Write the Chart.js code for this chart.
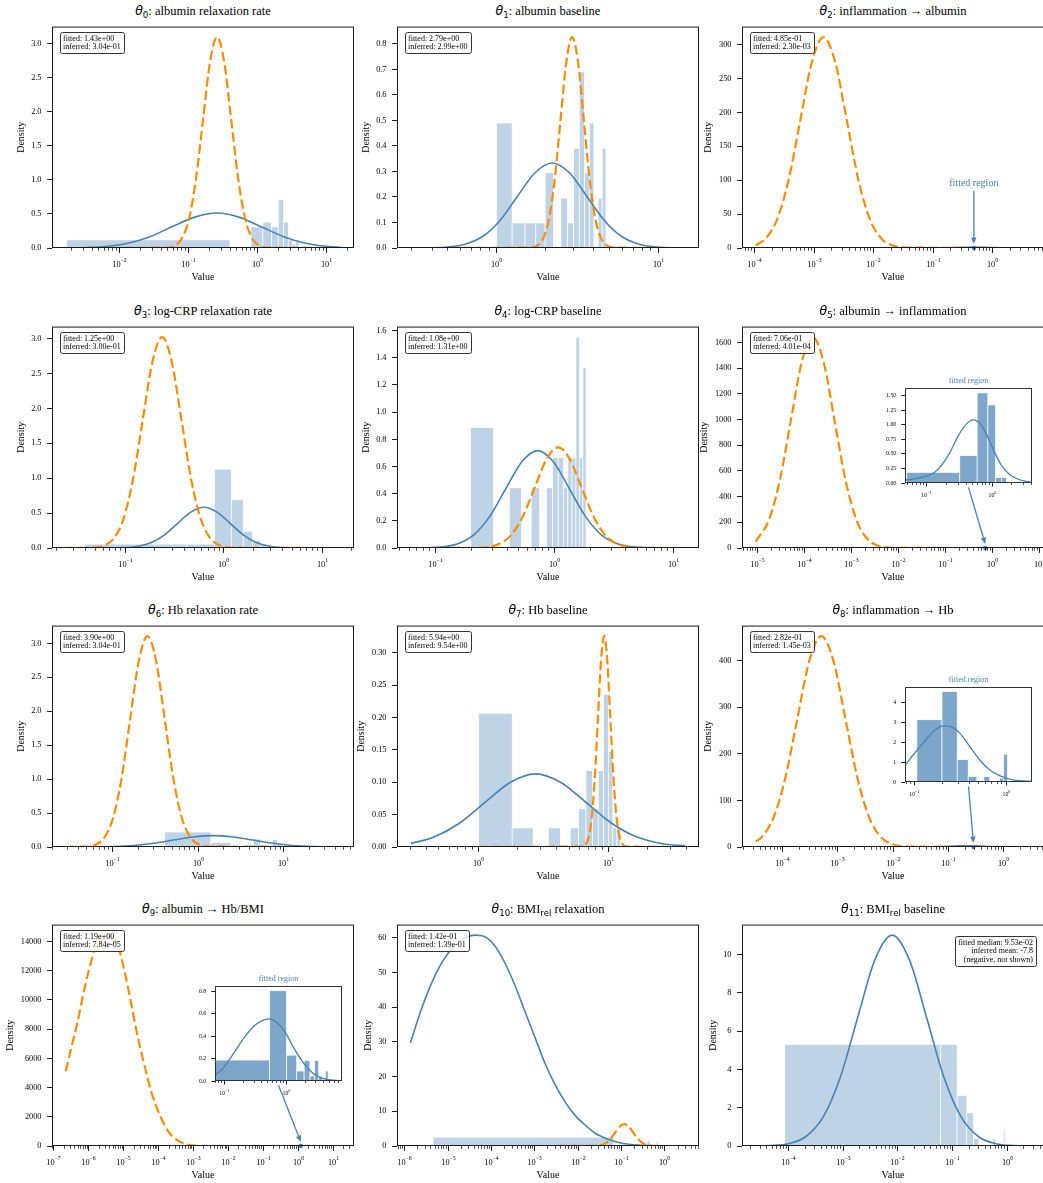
<!DOCTYPE html>
<html>
<head>
<meta charset="utf-8">
<script src="https://cdn.jsdelivr.net/npm/chart.js@4.4.0/dist/chart.umd.min.js"></script>
<style>
html, body { margin: 0; padding: 0; background: #fff; overflow: hidden; }
#fig { position: relative; width: 1043px; height: 1183px; overflow: hidden; }
canvas { position: absolute; }
.ttl { position: absolute; font-family: 'Liberation Serif', 'Times New Roman', serif; font-size: 12.5px; line-height: 1; color: #000; text-align: center; white-space: nowrap; }
.ttl .m { font-family: 'DejaVu Sans', sans-serif; font-style: oblique; }
.ttl sub { font-family: 'DejaVu Sans', sans-serif; font-style: normal; font-size: 8.6px; vertical-align: baseline; position: relative; top: 2.5px; }
</style>
</head>
<body>
<div id="fig"></div>
<script>
// ---- values ----
// histogram bin edges (values) and densities; curve x positions are read as log10 of the value

// theta 0
const p0Edges = [0.0017, 0.4, 0.8, 1.2, 1.6, 2.0, 2.4, 2.8, 3.2, 3.6, 4.0];
const p0Heights = [0.12, 0, 0.31, 0.38, 0.31, 0.71, 0.38, 0.12, 0.06, 0.12];
const p0FitLogX = [-2.53, -2.20, -1.88, -1.56, -1.24, -0.91, -0.59, -0.27, 0.055, 0.38, 0.70, 1.02, 1.22];
const p0FitY = [0.006, 0.023, 0.070, 0.167, 0.312, 0.454, 0.514, 0.454, 0.312, 0.167, 0.070, 0.023, 0.010];
const p0InfLogX = [-2.53, -1.30, -1.20, -1.10, -0.995, -0.893, -0.79, -0.688, -0.585, -0.483, -0.38, -0.278, -0.175, -0.073, 0.03, 0.133, 1.22];
const p0InfY = [0, 0.007, 0.034, 0.136, 0.419, 1.007, 1.88, 2.736, 3.10, 2.736, 1.88, 1.007, 0.419, 0.136, 0.034, 0.007, 0];
const p0YTicks = [0, 0.5, 1, 1.5, 2, 2.5, 3];

// theta 1
const p1Edges = [1.0, 1.25, 1.5, 1.75, 2.0, 2.25, 2.5, 2.75, 3.0, 3.25, 3.5, 3.75, 4.0, 4.25, 4.5, 4.75];
const p1Heights = [0.49, 0.098, 0.098, 0.098, 0.295, 0, 0.195, 0.098, 0.39, 0.69, 0.295, 0.49, 0, 0.195, 0.39];
const p1FitLogX = [-0.537, -0.409, -0.301, -0.194, -0.086, 0.022, 0.129, 0.237, 0.344, 0.452, 0.559, 0.667, 0.774, 0.882, 0.989, 1.097, 1.165];
const p1FitY = [0, 0.0007, 0.0037, 0.0146, 0.045, 0.108, 0.202, 0.294, 0.333, 0.294, 0.202, 0.108, 0.045, 0.0146, 0.0037, 0.0007, 0.0001];
const p1InfLogX = [-0.537, 0.216, 0.252, 0.288, 0.324, 0.36, 0.396, 0.432, 0.468, 0.504, 0.54, 0.576, 0.612, 0.648, 0.684, 0.72, 1.165];
const p1InfY = [0, 0.0018, 0.0092, 0.036, 0.112, 0.269, 0.502, 0.73, 0.827, 0.73, 0.502, 0.269, 0.112, 0.036, 0.0092, 0.0018, 0];
const p1YTicks = [0, 0.1, 0.2, 0.3, 0.4, 0.5, 0.6, 0.7, 0.8];

// theta 2
const p2FitLogX = [-3.98, -1.14, -1.0, -0.86, -0.72, -0.58, -0.44, -0.30, -0.16, -0.02, 0.12, 0.26, 0.40, 0.54, 0.634];
const p2FitY = [0, 0.013, 0.053, 0.16, 0.39, 0.73, 1.06, 1.2, 1.06, 0.73, 0.39, 0.16, 0.053, 0.013, 0.004];
const p2InfLogX = [-3.98, -3.815, -3.62, -3.425, -3.23, -3.035, -2.84, -2.645, -2.45, -2.255, -2.06, -1.865, -1.67, -1.475, 0.634];
const p2InfY = [3.9, 13.7, 42.1, 101, 188.6, 274.5, 311, 274.5, 188.6, 101, 42.1, 13.7, 3.5, 0.7, 0];
const p2YTicks = [0, 50, 100, 150, 200, 250, 300];

// theta 3
const p3Edges = [0.039, 0.424, 0.81, 1.195, 1.58, 1.965, 2.35, 2.735, 3.12, 3.505, 3.89, 4.275, 4.66, 5.045, 5.43, 5.815];
const p3Heights = [0.056, 0.056, 1.13, 0.69, 0.24, 0.11, 0.056, 0, 0, 0, 0, 0, 0, 0, 0.03];
const p3FitLogX = [-1.604, -1.132, -0.999, -0.866, -0.733, -0.6, -0.467, -0.334, -0.201, -0.068, 0.065, 0.198, 0.331, 0.464, 0.597, 0.73, 1.184];
const p3FitY = [0, 0.0013, 0.0065, 0.0256, 0.0789, 0.189, 0.354, 0.514, 0.583, 0.514, 0.354, 0.189, 0.0789, 0.0256, 0.0065, 0.0013, 0];
const p3InfLogX = [-1.604, -1.315, -1.216, -1.118, -1.019, -0.921, -0.822, -0.724, -0.625, -0.527, -0.428, -0.33, -0.231, -0.133, -0.034, 0.065, 1.184];
const p3InfY = [0, 0.0066, 0.0335, 0.133, 0.409, 0.98, 1.832, 2.665, 3.02, 2.665, 1.832, 0.98, 0.409, 0.133, 0.0335, 0.0066, 0];
const p3YTicks = [0, 0.5, 1, 1.5, 2, 2.5, 3];

// theta 4
const p4Edges = [0.198, 0.308, 0.418, 0.528, 0.638, 0.748, 0.858, 0.968, 1.078, 1.188, 1.298, 1.408, 1.518, 1.628, 1.738, 1.848];
const p4Heights = [0.886, 0, 0.443, 0, 0.443, 0, 0.443, 0.665, 0.665, 0.443, 0.665, 0.665, 1.552, 0.665, 1.33];
const p4FitLogX = [-1.208, -1.079, -0.945, -0.811, -0.677, -0.543, -0.409, -0.275, -0.141, -0.007, 0.127, 0.261, 0.395, 0.529, 0.663, 0.797, 1.10];
const p4FitY = [0.0002, 0.0016, 0.008, 0.0315, 0.097, 0.233, 0.435, 0.633, 0.717, 0.633, 0.435, 0.233, 0.097, 0.0315, 0.008, 0.0016, 0];
const p4InfLogX = [-1.208, -0.65, -0.553, -0.456, -0.358, -0.261, -0.163, -0.066, 0.032, 0.13, 0.227, 0.325, 0.422, 0.52, 0.617, 0.715, 1.10];
const p4InfY = [0, 0.0016, 0.0082, 0.0325, 0.1003, 0.2406, 0.4494, 0.654, 0.741, 0.654, 0.4494, 0.2406, 0.1003, 0.0325, 0.0082, 0.0016, 0];
const p4YTicks = [0, 0.2, 0.4, 0.6, 0.8, 1.0, 1.2, 1.4, 1.6];

// theta 5 (main + inset)
const p5FitLogX = [-5.04, -1.8, -1.311, -1.087, -0.880, -0.674, -0.518, -0.415, -0.295, -0.182, -0.078, 0.025, 0.129, 0.258, 0.388, 0.517, 0.595, 0.81];
const p5FitY = [0, 0.002, 0.052, 0.097, 0.183, 0.47, 0.813, 0.985, 1.082, 1.014, 0.813, 0.556, 0.326, 0.155, 0.069, 0.029, 0.011, 0];
const p5InfLogX = [-5.04, -4.753, -4.521, -4.289, -4.057, -3.825, -3.593, -3.361, -3.129, -2.897, -2.665, -2.433, -2.201, -1.97, 0.81];
const p5InfY = [50, 222, 533, 995, 1448, 1641, 1448, 995, 533, 222, 72, 18.2, 3.6, 0.5, 0];
const p5YTicks = [0, 200, 400, 600, 800, 1000, 1200, 1400, 1600];
const p5InsetEdges = [0.049, 0.319, 0.589, 0.859, 1.129, 1.399, 1.669, 1.939, 2.209, 2.479, 2.749];
const p5InsetHeights = [0.183, 0.47, 1.546, 1.34, 0.092, 0.092, 0, 0, 0, 0.03];
const p5InsetYTicks = [0, 0.25, 0.5, 0.75, 1.0, 1.25, 1.5];

// theta 6
const p6Edges = [0.408, 1.40, 2.39, 3.38, 4.37, 5.36, 6.35, 7.34, 8.33, 9.32, 10.31, 11.3, 12.29, 13.28, 14.27, 15.26];
const p6Heights = [0.221, 0.067, 0, 0.033, 0.117, 0.033, 0, 0.11, 0.033, 0.017, 0.017, 0, 0, 0, 0.017];
const p6FitLogX = [-1.544, -1.214, -0.983, -0.751, -0.52, -0.288, -0.057, 0.175, 0.407, 0.638, 0.87, 1.101, 1.333, 1.564, 1.657];
const p6FitY = [0.0002, 0.0019, 0.0074, 0.0227, 0.0545, 0.1019, 0.1483, 0.168, 0.1483, 0.1019, 0.0545, 0.0227, 0.0074, 0.0019, 0.0011];
const p6InfLogX = [-1.544, -1.296, -1.196, -1.095, -0.994, -0.893, -0.793, -0.692, -0.591, -0.49, -0.39, -0.289, -0.188, -0.087, 0.014, 0.114, 1.657];
const p6InfY = [0, 0.0068, 0.0345, 0.1364, 0.4204, 1.009, 1.884, 2.742, 3.107, 2.742, 1.884, 1.009, 0.4204, 0.1364, 0.0345, 0.0068, 0];
const p6YTicks = [0, 0.5, 1, 1.5, 2, 2.5, 3];

// theta 7
const p7Edges = [1.01, 1.83, 2.65, 3.47, 4.29, 5.11, 5.93, 6.75, 7.57, 8.39, 9.21, 10.03, 10.85, 11.67, 12.49];
const p7Heights = [0.2065, 0.0295, 0, 0.0295, 0, 0.0295, 0.059, 0.118, 0.059, 0.118, 0.236, 0.1475, 0.0295, 0.0295];
const p7FitLogX = [-0.5175, -0.3385, -0.1435, 0.0515, 0.2465, 0.4415, 0.6365, 0.8315, 1.0265, 1.2215, 1.4165, 1.5925];
const p7FitY = [0.0053, 0.0153, 0.0367, 0.0685, 0.0997, 0.113, 0.0997, 0.0685, 0.0367, 0.0153, 0.005, 0.0017];
const p7InfLogX = [-0.5175, 0.801, 0.825, 0.849, 0.873, 0.897, 0.921, 0.945, 0.969, 0.993, 1.017, 1.041, 1.065, 1.089, 1.113, 1.137, 1.5925];
const p7InfY = [0, 0.0007, 0.0036, 0.0143, 0.0441, 0.1058, 0.1977, 0.2877, 0.326, 0.2877, 0.1977, 0.1058, 0.0441, 0.0143, 0.0036, 0.0007, 0];
const p7YTicks = [0, 0.05, 0.1, 0.15, 0.2, 0.25, 0.3];

// theta 8 (main + inset)
const p8FitLogX = [-4.487, -1.6, -1.109, -1.018, -0.909, -0.8, -0.69, -0.618, -0.509, -0.4, -0.291, -0.182, -0.073, 0.036, 0.145, 0.273, 0.478];
const p8FitY = [0, 0.01, 0.867, 1.367, 1.95, 2.533, 2.817, 2.783, 2.45, 1.783, 1.117, 0.617, 0.317, 0.15, 0.067, 0.033, 0.01];
const p8InfLogX = [-4.487, -4.39, -4.172, -3.954, -3.736, -3.518, -3.30, -3.082, -2.864, -2.646, -2.428, -2.21, -1.992, -1.774, 0.478];
const p8InfY = [11.9, 19.9, 61.2, 146.9, 274.4, 399.3, 452.5, 399.3, 274.4, 146.9, 61.2, 19.9, 5.0, 1.0, 0];
const p8YTicks = [0, 100, 200, 300, 400];
const p8InsetEdges = [0.105, 0.198, 0.291, 0.384, 0.477, 0.570, 0.663, 0.756, 0.849, 0.942, 1.035];
const p8InsetHeights = [3.12, 4.53, 1.12, 0.27, 0, 0.27, 0, 0, 0.2, 1.4];
const p8InsetYTicks = [0, 1, 2, 3, 4];

// theta 9 (main + inset)
const p9FitLogX = [-6.657, -1.8, -1.156, -1.011, -0.849, -0.688, -0.527, -0.392, -0.285, -0.151, -0.016, 0.118, 0.253, 0.387, 0.521, 0.683, 0.882, 1.203];
const p9FitY = [0, 0.002, 0.053, 0.124, 0.252, 0.385, 0.489, 0.539, 0.554, 0.519, 0.43, 0.296, 0.178, 0.089, 0.036, 0.012, 0.003, 0];
const p9InfLogX = [-6.656, -6.494, -6.332, -6.160, -5.988, -5.825, -5.682, -5.491, -5.300, -5.128, -4.966, -4.794, -4.631, -4.440, -4.201, -3.963, -3.724, -3.485, -3.199, -2.817, 1.203];
const p9InfY = [5111, 6778, 8333, 10333, 12111, 13444, 14156, 14444, 14222, 13444, 11889, 9889, 7889, 5889, 3667, 2111, 1000, 444, 111, 0, 0];
const p9YTicks = [0, 2000, 4000, 6000, 8000, 10000, 12000, 14000];
const p9InsetEdges = [0.0698, 0.535, 1.0, 1.465, 1.93, 2.395, 2.86, 3.325, 3.79, 4.255, 4.72];
const p9InsetHeights = [0.187, 0.806, 0.231, 0.089, 0.184, 0.044, 0.184, 0.044, 0, 0.089];
const p9InsetYTicks = [0, 0.2, 0.4, 0.6, 0.8];

// theta 10
const p10Edges = [4.5e-6, 0.0642, 0.1284, 0.1926, 0.2568, 0.321, 0.385, 0.449, 0.514, 0.578, 0.642, 0.706];
const p10Heights = [2.53, 0.4, 0.4, 0.4, 0, 0, 1.5, 0.4, 0, 0.4, 1.2];
const p10FitLogX = [-5.870, -5.616, -5.370, -5.116, -4.846, -4.616, -4.385, -4.154, -3.923, -3.693, -3.462, -3.231, -3.000, -2.769, -2.539, -2.308, -2.077, -1.846, -1.616, -1.385, -1.154, -0.923, -0.615, -0.231, 0.477];
const p10FitY = [29.7, 39.4, 47.2, 53.4, 57.8, 60.0, 60.75, 60.3, 57.7, 52.8, 46.4, 38.9, 31.4, 23.9, 17.8, 12.8, 8.9, 6.1, 3.75, 2.3, 1.3, 0.66, 0.28, 0.09, 0];
const p10InfLogX = [-5.861, -1.68, -1.574, -1.468, -1.362, -1.256, -1.15, -1.044, -0.938, -0.832, -0.726, -0.62, -0.514, -0.408, -0.302, -0.196, 0.468];
const p10InfY = [0, 0.014, 0.07, 0.276, 0.85, 2.04, 3.81, 5.54, 6.28, 5.54, 3.81, 2.04, 0.85, 0.276, 0.07, 0.014, 0];
const p10YTicks = [0, 10, 20, 30, 40, 50, 60];

// theta 11 (no inferred curve)
const p11Edges = [8.5e-5, 0.0605, 0.121, 0.1815, 0.242, 0.3025, 0.363, 0.4235, 0.484, 0.5445, 0.605, 0.6655, 0.726, 0.7865, 0.847, 0.9075];
const p11Heights = [5.306, 5.306, 2.636, 1.735, 0.39, 0, 0, 0, 0, 0.39, 0, 0, 0, 0, 0.85];
const p11FitLogX = [-4.60, -4.322, -4.005, -3.689, -3.372, -3.056, -2.739, -2.423, -2.106, -1.79, -1.473, -1.157, -0.84, -0.524, -0.207, 0.11, 0.42];
const p11FitY = [0.005, 0.024, 0.122, 0.484, 1.491, 3.578, 6.684, 9.725, 11.02, 9.725, 6.684, 3.578, 1.491, 0.484, 0.122, 0.024, 0.005];
const p11YTicks = [0, 2, 4, 6, 8, 10];

// fitted value marked by the "fitted region" arrow
const regionMarks = [null, null, 0.485, null, null, 0.706, null, null, 0.282, 1.19, null, null];

const panelTitles = [
  ['0', 'albumin relaxation rate'], ['1', 'albumin baseline'], ['2', 'inflammation \u2192 albumin'],
  ['3', 'log-CRP relaxation rate'], ['4', 'log-CRP baseline'], ['5', 'albumin \u2192 inflammation'],
  ['6', 'Hb relaxation rate'], ['7', 'Hb baseline'], ['8', 'inflammation \u2192 Hb'],
  ['9', 'albumin \u2192 Hb/BMI'], ['10', 'BMI<sub>rel</sub> relaxation'], ['11', 'BMI<sub>rel</sub> baseline']
];
const annTexts = [
  ['fitted: 1.43e+00', 'inferred: 3.04e-01'], ['fitted: 2.79e+00', 'inferred: 2.99e+00'],
  ['fitted: 4.85e-01', 'inferred: 2.30e-03'], ['fitted: 1.25e+00', 'inferred: 3.00e-01'],
  ['fitted: 1.08e+00', 'inferred: 1.31e+00'], ['fitted: 7.06e-01', 'inferred: 4.01e-04'],
  ['fitted: 3.90e+00', 'inferred: 3.04e-01'], ['fitted: 5.94e+00', 'inferred: 9.54e+00'],
  ['fitted: 2.82e-01', 'inferred: 1.45e-03'], ['fitted: 1.19e+00', 'inferred: 7.84e-05'],
  ['fitted: 1.42e-01', 'inferred: 1.39e-01'],
  ['fitted median: 9.53e-02', 'inferred mean: -7.8', '(negative, not shown)']
];

// ---- layout / styles ----
const SERIF = "'Liberation Serif', 'Times New Roman', serif";
const BLUE = '#4682b4', ORANGE = '#ff8c00';
const HIST = 'rgba(70,130,180,0.35)', HIST_IN = 'rgba(70,130,180,0.7)';
const COLS = [52, 397, 742], ROWS = [22, 322, 621, 920], AW = 302, AH = 226;
Chart.defaults.font.family = SERIF;
Chart.defaults.color = '#000';

const panels = [
  {fitX: p0FitLogX, fitY: p0FitY, infX: p0InfLogX, infY: p0InfY, edges: p0Edges, heights: p0Heights, yTicks: p0YTicks, dec: 1, xr: [-2.98, 1.40], ymax: 3.255, ylab: 30.6},
  {fitX: p1FitLogX, fitY: p1FitY, infX: p1InfLogX, infY: p1InfY, edges: p1Edges, heights: p1Heights, yTicks: p1YTicks, dec: 1, xr: [-0.615, 1.252], ymax: 0.868, ylab: 30.6},
  {fitX: p2FitLogX, fitY: p2FitY, infX: p2InfLogX, infY: p2InfY, edges: [], heights: [], yTicks: p2YTicks, dec: 0, xr: [-4.21, 0.865], ymax: 326.5, ylab: 33.4,
   arrow: {from: [null, 0.743], text: 'fitted region', textY: 0.707, fs: 10}},
  {fitX: p3FitLogX, fitY: p3FitY, infX: p3InfLogX, infY: p3InfY, edges: p3Edges, heights: p3Heights, yTicks: p3YTicks, dec: 1, xr: [-1.743, 1.323], ymax: 3.171, ylab: 30.6},
  {fitX: p4FitLogX, fitY: p4FitY, infX: p4InfLogX, infY: p4InfY, edges: p4Edges, heights: p4Heights, yTicks: p4YTicks, dec: 1, xr: [-1.323, 1.216], ymax: 1.63, ylab: 30.6},
  {fitX: p5FitLogX, fitY: p5FitY, infX: p5InfLogX, infY: p5InfY, edges: [], heights: [], yTicks: p5YTicks, dec: 0, xr: [-5.33, 1.10], ymax: 1723, ylab: 37.4,
   arrow: {from: [0.75, 0.726]},
   inset: {edges: p5InsetEdges, heights: p5InsetHeights, yTicks: p5InsetYTicks, dec: 2, xr: [-1.335, 0.61], ymax: 1.63}},
  {fitX: p6FitLogX, fitY: p6FitY, infX: p6InfLogX, infY: p6InfY, edges: p6Edges, heights: p6Heights, yTicks: p6YTicks, dec: 1, xr: [-1.704, 1.817], ymax: 3.262, ylab: 30.6},
  {fitX: p7FitLogX, fitY: p7FitY, infX: p7InfLogX, infY: p7InfY, edges: p7Edges, heights: p7Heights, yTicks: p7YTicks, dec: 2, xr: [-0.623, 1.698], ymax: 0.342, ylab: 35.6},
  {fitX: p8FitLogX, fitY: p8FitY, infX: p8InfLogX, infY: p8InfY, edges: [], heights: [], yTicks: p8YTicks, dec: 0, xr: [-4.735, 0.726], ymax: 475, ylab: 33.4,
   arrow: {from: [0.75, 0.726]},
   inset: {edges: p8InsetEdges, heights: p8InsetHeights, yTicks: p8InsetYTicks, dec: 0, xr: [-1.109, 0.284], ymax: 4.76}},
  {fitX: p9FitLogX, fitY: p9FitY, infX: p9InfLogX, infY: p9InfY, edges: [], heights: [], yTicks: p9YTicks, dec: 0, xr: [-7.05, 1.596], ymax: 15160, ylab: 41.3,
   arrow: {from: [0.75, 0.726]},
   inset: {edges: p9InsetEdges, heights: p9InsetHeights, yTicks: p9InsetYTicks, dec: 1, xr: [-1.156, 0.898], ymax: 0.848}},
  {fitX: p10FitLogX, fitY: p10FitY, infX: p10InfLogX, infY: p10InfY, edges: p10Edges, heights: p10Heights, yTicks: p10YTicks, dec: 0, xr: [-6.178, 0.785], ymax: 63.8, ylab: 29},
  {fitX: p11FitLogX, fitY: p11FitY, infX: [], infY: [], edges: p11Edges, heights: p11Heights, yTicks: p11YTicks, dec: 0, xr: [-4.853, 0.672], ymax: 11.57, ylab: 28.4, annRight: true}
];

const pts = (lx, ys) => lx.map((v, i) => ({x: Math.pow(10, v), y: ys[i]}));

// histogram bars drawn through the chart scales
const histPlugin = {
  id: 'hist',
  beforeDatasetsDraw(chart, args, o) {
    if (!o.edges || !o.edges.length) return;
    const ctx = chart.ctx, a = chart.chartArea, x = chart.scales.x, y = chart.scales.y;
    ctx.save();
    ctx.beginPath(); ctx.rect(a.left, a.top, a.right - a.left, a.bottom - a.top); ctx.clip();
    for (let i = 0; i < o.heights.length; i++) {
      if (!o.heights[i]) continue;
      const x0 = x.getPixelForValue(o.edges[i]), x1 = x.getPixelForValue(o.edges[i + 1]);
      const y0 = y.getPixelForValue(0), y1 = y.getPixelForValue(o.heights[i]);
      ctx.fillStyle = o.color;
      ctx.fillRect(x0, y1, x1 - x0, y0 - y1);
      ctx.strokeStyle = '#fff'; ctx.lineWidth = 0.7;
      ctx.strokeRect(x0, y1, x1 - x0, y0 - y1);
    }
    ctx.restore();
  }
};

// frame, log ticks with 10^n labels, text boxes, arrows
const decoPlugin = {
  id: 'deco',
  beforeDraw(chart, args, o) {
    if (!o.whiteBg) return;
    const a = chart.chartArea, ctx = chart.ctx;
    ctx.save(); ctx.fillStyle = '#fff'; ctx.fillRect(a.left, a.top, a.right - a.left, a.bottom - a.top); ctx.restore();
  },
  afterDraw(chart, args, o) {
    const ctx = chart.ctx, a = chart.chartArea, xs = chart.scales.x, ys = chart.scales.y;
    ctx.save();
    const lo = Math.log10(xs.min), hi = Math.log10(xs.max);
    ctx.strokeStyle = '#000'; ctx.fillStyle = '#000';
    for (let e = Math.floor(lo); e <= Math.ceil(hi); e++) {
      for (let m = 1; m <= 9; m++) {
        const v = m * Math.pow(10, e);
        if (v < xs.min || v > xs.max) continue;
        const px = Math.floor(xs.getPixelForValue(v)) + 0.5;
        const major = m === 1;
        ctx.lineWidth = major ? 0.9 : 0.7;
        ctx.beginPath(); ctx.moveTo(px, a.bottom); ctx.lineTo(px, a.bottom + (major ? o.tickMaj : o.tickMin)); ctx.stroke();
        if (major) {
          const ex = (e < 0 ? '\u2212' : '') + Math.abs(e);
          ctx.font = o.fs + 'px ' + SERIF; const wb = ctx.measureText('10').width;
          ctx.font = o.efs + 'px ' + SERIF; const we = ctx.measureText(ex).width;
          const sx = px - (wb + we) / 2;
          ctx.textAlign = 'left'; ctx.textBaseline = 'alphabetic';
          ctx.font = o.fs + 'px ' + SERIF; ctx.fillText('10', sx, a.bottom + o.base);
          ctx.font = o.efs + 'px ' + SERIF; ctx.fillText(ex, sx + wb, a.bottom + o.expo);
        }
      }
    }
    // frame
    ctx.strokeStyle = o.frame; ctx.lineWidth = 1;
    ctx.strokeRect(a.left + 0.5, a.top + 0.5, a.right - a.left - 1, a.bottom - a.top - 1);
    // inset title
    if (o.title) {
      ctx.fillStyle = BLUE; ctx.font = '8px ' + SERIF; ctx.textAlign = 'center'; ctx.textBaseline = 'middle';
      ctx.fillText(o.title, (a.left + a.right) / 2, a.top - 7.3);
    }
    // arrow to the fitted value
    if (o.arrow) {
      const tx = xs.getPixelForValue(o.arrow.to), ty = ys.getPixelForValue(0) - 4;
      const sx = o.arrow.from[0] === null ? tx : a.left + o.arrow.from[0] * (a.right - a.left);
      const sy = a.top + o.arrow.from[1] * (a.bottom - a.top);
      const ang = Math.atan2(ty - sy, tx - sx), hl = 6.5, hw = 2.7;
      const bx = tx - hl * Math.cos(ang), by = ty - hl * Math.sin(ang);
      ctx.strokeStyle = BLUE; ctx.fillStyle = BLUE; ctx.lineWidth = 1.3;
      ctx.beginPath(); ctx.moveTo(sx, sy); ctx.lineTo(bx, by); ctx.stroke();
      ctx.beginPath(); ctx.moveTo(tx, ty);
      ctx.lineTo(bx + hw * Math.sin(ang), by - hw * Math.cos(ang));
      ctx.lineTo(bx - hw * Math.sin(ang), by + hw * Math.cos(ang));
      ctx.closePath(); ctx.fill();
      if (o.arrow.text) {
        ctx.font = o.arrow.fs + 'px ' + SERIF; ctx.textAlign = 'center'; ctx.textBaseline = 'middle';
        ctx.fillText(o.arrow.text, tx, a.top + o.arrow.textY * (a.bottom - a.top));
      }
    }
    // value box
    if (o.ann) {
      ctx.font = '8px ' + SERIF;
      const lh = 8.5, right = o.ann.right;
      const w = Math.max(...o.ann.lines.map(t => ctx.measureText(t).width)) + 6, h = o.ann.lines.length * lh + 4;
      const bx = Math.round(right ? a.right - 8 - w : a.left + 7.5), by = Math.round(a.top + (right ? 11.7 : 5));
      ctx.beginPath(); ctx.roundRect(bx + 0.5, by + 0.5, Math.round(w), Math.round(h), 2);
      ctx.fillStyle = 'rgba(255,255,255,0.8)'; ctx.fill();
      ctx.strokeStyle = '#333'; ctx.lineWidth = 1; ctx.stroke();
      ctx.fillStyle = '#000'; ctx.textBaseline = 'middle'; ctx.textAlign = right ? 'right' : 'left';
      o.ann.lines.forEach((t, i) => ctx.fillText(t, right ? bx + Math.round(w) - 3 : bx + 3, by + 2.5 + lh * (i + 0.5)));
    }
    ctx.restore();
  }
};

function lineSet(lx, ys, color, width, dash, order) {
  return {type: 'line', data: pts(lx, ys), borderColor: color, borderWidth: width, borderDash: dash,
          pointRadius: 0, fill: false, cubicInterpolationMode: 'monotone', order: order};
}

function scalesFor(p, sz) {
  return {
    x: {type: 'logarithmic', min: Math.pow(10, p.xr[0]), max: Math.pow(10, p.xr[1]),
        ticks: {display: false}, grid: {display: false}, border: {display: false},
        title: sz.xTitle ? {display: true, text: 'Value', font: {size: 10, family: SERIF}, padding: {top: 0, bottom: 4.5}} : {display: false},
        afterFit: s => { s.height = sz.pb; }},
    y: {type: 'linear', min: 0, max: p.ymax,
        afterBuildTicks: s => { s.ticks = p.yTicks.map(v => ({value: v})); },
        ticks: {autoSkip: false, padding: sz.tpad, font: {size: sz.tfs, family: SERIF}, callback: v => Number(v).toFixed(p.dec)},
        grid: {display: true, drawOnChartArea: false, drawTicks: true, tickLength: sz.tlen, tickWidth: 0.9, tickColor: '#000'},
        border: {display: false},
        title: sz.yTitle ? {display: true, text: 'Density', font: {size: 10, family: SERIF}, padding: {top: sz.pl - p.ylab - 6, bottom: 0}} : {display: false},
        afterFit: s => { s.width = sz.pl; }}
  };
}

const fig = document.getElementById('fig');

panels.forEach((p, i) => {
  const L = COLS[i % 3], T = ROWS[Math.floor(i / 3)];
  const t = document.createElement('div');
  t.className = 'ttl';
  t.innerHTML = '<span class="m">\u03b8</span><sub>' + panelTitles[i][0] + '</sub>: ' + panelTitles[i][1];
  t.style.left = L + 'px'; t.style.width = AW + 'px'; t.style.top = (T - 17) + 'px';
  fig.appendChild(t);

  const PL = 52, PT = 6, PR = 6, PB = 40;
  const cv = document.createElement('canvas');
  cv.width = AW + PL + PR; cv.height = AH + PT + PB;
  cv.style.left = (L - PL) + 'px'; cv.style.top = (T - PT) + 'px';
  cv.style.width = cv.width + 'px'; cv.style.height = cv.height + 'px';
  fig.appendChild(cv);

  const datasets = [];
  if (p.infX.length) datasets.push(lineSet(p.infX, p.infY, ORANGE, 2.2, [9.5, 4], 1));
  datasets.push(lineSet(p.fitX, p.fitY, BLUE, 1.6, [], 2));
  if (regionMarks[i] !== null) {
    datasets.push({type: 'line', data: [{x: regionMarks[i], y: 0}], showLine: false, pointRadius: 2.2,
                   pointBackgroundColor: BLUE, pointBorderWidth: 0, clip: false, order: 0});
  }
  const arrow = p.arrow ? Object.assign({to: regionMarks[i]}, p.arrow) : null;

  new Chart(cv, {
    type: 'line',
    data: {datasets},
    options: {
      responsive: false, animation: false, devicePixelRatio: 1, events: [],
      layout: {padding: {top: PT, right: PR, left: 0, bottom: 0}},
      plugins: {legend: {display: false}, tooltip: {enabled: false},
        hist: {edges: p.edges, heights: p.heights, color: HIST},
        deco: {fs: 8.3, efs: 5.8, base: 18.6, expo: 14.2, tickMaj: 4.9, tickMin: 2.8, frame: '#1a1a1a',
               ann: {lines: annTexts[i], right: !!p.annRight}, arrow}},
      scales: scalesFor(p, {pl: PL, pb: PB, tpad: 5.6, tfs: 8.3, tlen: 4.9, xTitle: true, yTitle: true})
    },
    plugins: [histPlugin, decoPlugin]
  });

  if (p.inset) {
    const q = p.inset;
    const iL = Math.round(L + 0.54 * AW), iT = Math.round(T + 0.29 * AH), iW = Math.round(0.42 * AW), iH = Math.round(0.42 * AH);
    const QL = 26, QT = 14, QR = 3, QB = 18;
    const ic = document.createElement('canvas');
    ic.width = iW + QL + QR; ic.height = iH + QT + QB;
    ic.style.left = (iL - QL) + 'px'; ic.style.top = (iT - QT) + 'px';
    ic.style.width = ic.width + 'px'; ic.style.height = ic.height + 'px';
    fig.appendChild(ic);
    new Chart(ic, {
      type: 'line',
      data: {datasets: [lineSet(p.fitX, p.fitY, BLUE, 1.3, [], 1)]},
      options: {
        responsive: false, animation: false, devicePixelRatio: 1, events: [],
        layout: {padding: {top: QT, right: QR, left: 0, bottom: 0}},
        plugins: {legend: {display: false}, tooltip: {enabled: false},
          hist: {edges: q.edges, heights: q.heights, color: HIST_IN},
          deco: {whiteBg: true, fs: 5.8, efs: 4.2, base: 14.4, expo: 11.4, tickMaj: 3.5, tickMin: 2, frame: '#333', title: 'fitted region'}},
        scales: scalesFor(q, {pl: QL, pb: QB, tpad: 5, tfs: 5.8, tlen: 3.8, xTitle: false, yTitle: false})
      },
      plugins: [histPlugin, decoPlugin]
    });
  }
});
</script>
</body>
</html>
